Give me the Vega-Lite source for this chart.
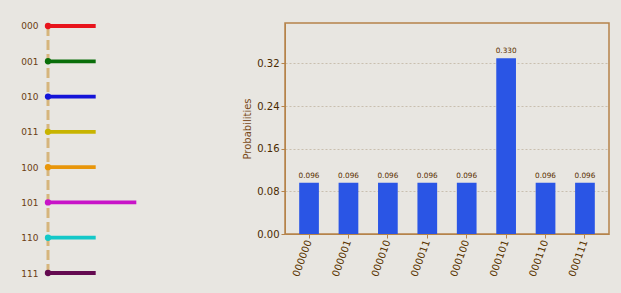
{
  "$schema": "https://vega.github.io/schema/vega-lite/v6.json",
  "background": "#e8e6e1",
  "padding": {"left": 20, "top": 19, "right": 11, "bottom": 13},
  "spacing": 93,
  "config": {"font": "DejaVu Sans", "view": {"stroke": null}},
  "datasets": {
    "amps": [
      {"state": "000", "amp": 0.31},
      {"state": "001", "amp": 0.31},
      {"state": "010", "amp": 0.31},
      {"state": "011", "amp": 0.31},
      {"state": "100", "amp": 0.31},
      {"state": "101", "amp": 0.574},
      {"state": "110", "amp": 0.31},
      {"state": "111", "amp": 0.31}
    ],
    "probs": [
      {"bitstring": "000000", "prob": 0.096},
      {"bitstring": "000001", "prob": 0.096},
      {"bitstring": "000010", "prob": 0.096},
      {"bitstring": "000011", "prob": 0.096},
      {"bitstring": "000100", "prob": 0.096},
      {"bitstring": "000101", "prob": 0.330},
      {"bitstring": "000110", "prob": 0.096},
      {"bitstring": "000111", "prob": 0.096}
    ]
  },
  "hconcat": [
    {
      "width": 100,
      "height": 253,
      "data": {"name": "amps"},
      "view": {"stroke": null},
      "encoding": {
        "y": {
          "field": "state",
          "type": "ordinal",
          "scale": {"type": "point", "padding": 0.085},
          "axis": {"title": null, "domain": false, "ticks": false, "labelPadding": 10, "labelColor": "#6b4012", "labelFontSize": 9}
        }
      },
      "layer": [
        {
          "mark": {"type": "line", "strokeDash": [10, 4], "strokeWidth": 3, "color": "#d6b57c"},
          "encoding": {
            "x": {"datum": 0, "type": "quantitative", "scale": {"domain": [0, 0.64]}, "axis": null},
            "order": {"field": "state"}
          }
        },
        {
          "mark": {"type": "rule", "strokeWidth": 3.8},
          "encoding": {
            "x": {"field": "amp", "type": "quantitative", "scale": {"domain": [0, 0.64]}, "axis": null},
            "x2": {"datum": 0},
            "color": {
              "field": "state",
              "type": "nominal",
              "scale": {"domain": ["000","001","010","011","100","101","110","111"], "range": ["#e8141c","#0a6e0a","#1414d8","#c8b400","#e8960a","#c814c8","#14c8c8","#640a50"]},
              "legend": null
            }
          }
        },
        {
          "mark": {"type": "circle", "size": 40, "opacity": 1},
          "encoding": {
            "x": {"datum": 0, "type": "quantitative"},
            "color": {"field": "state", "type": "nominal", "legend": null}
          }
        }
      ]
    },
    {
      "width": 324,
      "height": 211,
      "data": {"name": "probs"},
      "view": {"stroke": "#b5834a", "strokeWidth": 1.5},
      "encoding": {
        "x": {
          "field": "bitstring",
          "type": "nominal",
          "scale": {"paddingInner": 0.5, "paddingOuter": 0.36},
          "axis": {"title": null, "labelAngle": -70, "labelFontSize": 10, "labelColor": "#5a3500", "domainColor": "#b5834a", "tickColor": "#b5834a", "tickSize": 4}
        },
        "y": {
          "field": "prob",
          "type": "quantitative",
          "scale": {"domain": [0, 0.396], "nice": false},
          "axis": {
            "title": "Probabilities", "titleFontSize": 10, "titleColor": "#7a4a18", "titleFontWeight": "normal",
            "values": [0, 0.08, 0.16, 0.24, 0.32], "format": ".2f",
            "labelFontSize": 10, "labelColor": "#4a2a00",
            "grid": true, "gridDash": [2, 2], "gridColor": "#c9bfae",
            "domainColor": "#b5834a", "tickColor": "#b5834a", "tickSize": 4
          }
        }
      },
      "layer": [
        {"mark": {"type": "bar", "color": "#2a55e5"}},
        {
          "mark": {"type": "text", "dy": -7, "fontSize": 7.3, "color": "#5a3000"},
          "encoding": {"text": {"field": "prob", "type": "quantitative", "format": ".3f"}}
        }
      ]
    }
  ]
}
